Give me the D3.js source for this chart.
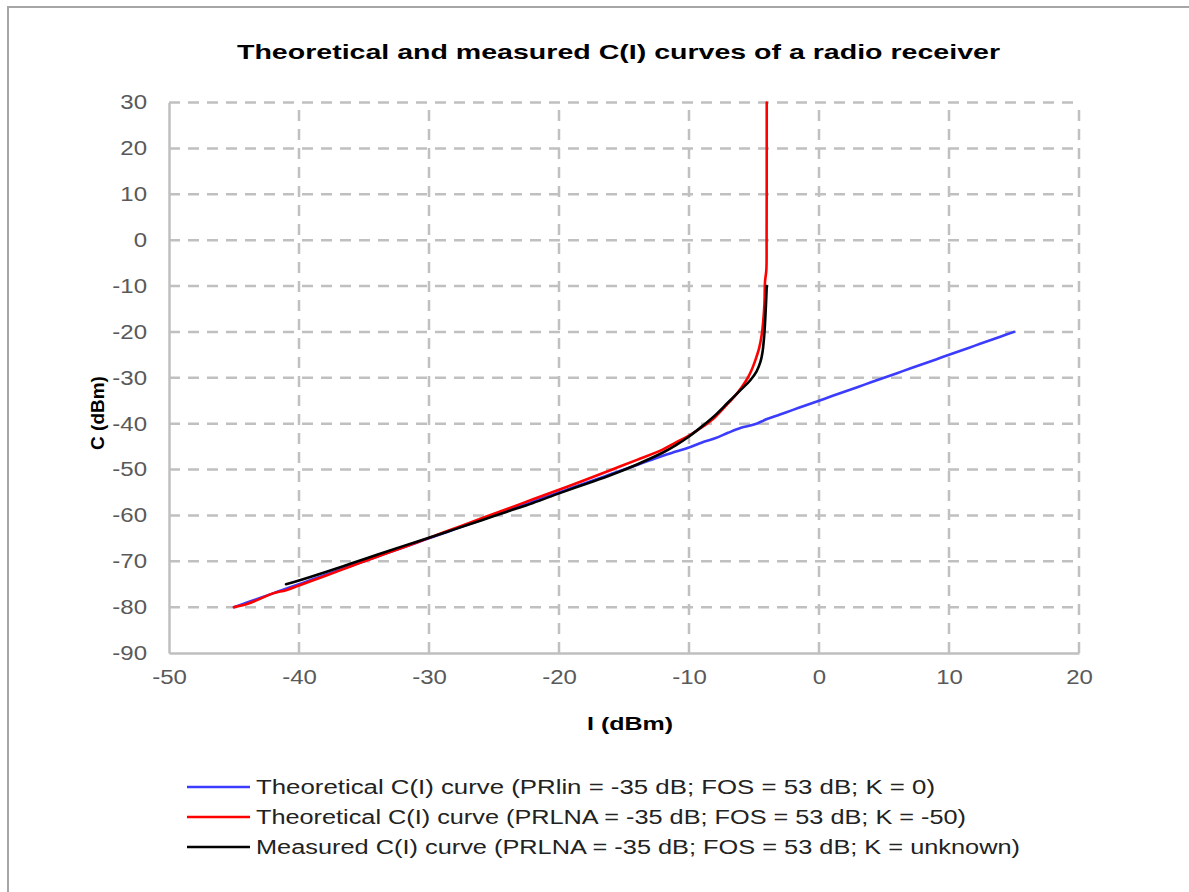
<!DOCTYPE html>
<html>
<head>
<meta charset="utf-8">
<script src="https://cdn.jsdelivr.net/npm/d3@7"></script>
<style>
  html, body { margin: 0; padding: 0; background: #fff; }
  svg { display: block; font-family: "Liberation Sans", Arial, sans-serif; }
</style>
</head>
<body>
<svg id="chart" width="1189" height="892"></svg>
<script>
// ---- Data ----
const xTicks = [-50, -40, -30, -20, -10, 0, 10, 20];
const yTicks = [-90, -80, -70, -60, -50, -40, -30, -20, -10, 0, 10, 20, 30];

const seriesNames = [
  "Theoretical C(I) curve (PRlin = -35 dB; FOS = 53 dB; K = 0)",
  "Theoretical C(I) curve (PRLNA = -35 dB; FOS = 53 dB; K = -50)",
  "Measured C(I) curve (PRLNA = -35 dB; FOS = 53 dB; K = unknown)"
];
const seriesColors = ["#3c3cff", "#ff0000", "#000000"];

const blueI = [-45,-44,-43,-42,-41,-40,-39,-38,-37,-36,-35,-34,-33,-32,-31,-30,-29,-28,-27,-26,-25,-24,-23,-22,-21,-20,-19,-18,-17,-16,-15,-14,-13,-12,-11,-10,-9,-8,-7,-6,-5,-4,-3,-2,-1,0,1,2,3,4,5,6,7,8,9,10,11,12,13,14,15];
const blueC = [-80,-79,-78,-77,-76,-75,-74,-73,-72,-71,-70,-69,-68,-67,-66,-65,-64,-63,-62,-61,-60,-59,-58,-57,-56,-55,-54,-53,-52,-51,-50,-49,-48,-47,-46.1,-45.2,-44.1,-43.2,-42,-40.9,-40.2,-39,-38,-37,-36,-35,-34,-33,-32,-31,-30,-29,-28,-27,-26,-25,-24,-23,-22,-21,-20];

const redI = [-45,-44,-43,-42,-41,-40,-38,-36,-34,-32,-30,-28,-26,-24,-22,-20,-18,-16,-14,-12,-11,-10,-9,-8,-7,-6.3,-5.6,-5.2,-4.9,-4.6,-4.4,-4.3,-4.2,-4.15,-4.05,-4.03,-4.02];
const redC = [-80,-79.3,-78.2,-77,-76.3,-75.3,-73.2,-71.1,-69,-67,-64.9,-62.8,-60.7,-58.6,-56.5,-54.4,-52.3,-50.1,-47.9,-45.6,-44.1,-42.6,-40.8,-38.6,-35.6,-33.4,-30.6,-28.4,-26.2,-23.5,-20.5,-18,-14,-9,-6.5,0,30];

const blackI = [-41,-40,-38,-36,-34,-32,-30,-28,-26,-24,-22,-20,-18,-16,-14,-12,-11,-10,-9,-8,-7,-6,-5.3,-4.8,-4.5,-4.35,-4.22,-4.15,-4.08,-4.02];
const blackC = [-75,-74.2,-72.4,-70.5,-68.6,-66.7,-64.9,-63,-61.1,-59.2,-57.3,-55.2,-53.2,-51.2,-48.9,-46.3,-44.7,-42.8,-40.6,-38.2,-35.4,-32.6,-30.6,-28.6,-26.5,-24.5,-21,-18,-14,-10];

// ---- Layout ----
const svg = d3.select("#chart");
const x = d3.scaleLinear().domain([-50, 20]).range([169, 1079]);
const y = d3.scaleLinear().domain([-90, 30]).range([653, 102.5]);

function stretch(sel, factor) {
  sel.each(function() {
    const w = this.getComputedTextLength();
    d3.select(this).attr("textLength", w * factor).attr("lengthAdjust", "spacingAndGlyphs");
  });
}

// outer border
svg.append("rect").attr("x", 8).attr("y", 7).attr("width", 1200).attr("height", 900)
  .attr("fill", "#fff").attr("stroke", "#a6a6a6").attr("stroke-width", 2);

// title
svg.append("text").attr("x", 618.5).attr("y", 59).attr("text-anchor", "middle")
  .attr("font-size", 21).attr("font-weight", "bold").attr("fill", "#000")
  .attr("textLength", 763).attr("lengthAdjust", "spacingAndGlyphs")
  .text("Theoretical and measured C(I) curves of a radio receiver");

// grid
const grid = svg.append("g");
grid.selectAll("line.h").data(yTicks.filter(d => d > -90)).enter().append("line")
  .attr("x1", x(-50)).attr("x2", x(20)).attr("y1", d => y(d)).attr("y2", d => y(d))
  .attr("stroke", "#c0c0c0").attr("stroke-width", 2.5).attr("stroke-dasharray", "11,8");
grid.selectAll("line.v").data(xTicks.filter(d => d > -50)).enter().append("line")
  .attr("y1", y(-90)).attr("y2", y(30)).attr("x1", d => x(d)).attr("x2", d => x(d))
  .attr("stroke", "#c0c0c0").attr("stroke-width", 2.5).attr("stroke-dasharray", "11,8");

// axes
const yAxis = d3.axisLeft(y).tickValues(yTicks).tickSize(0).tickPadding(22).tickFormat(d3.format("d"));
const xAxis = d3.axisBottom(x).tickValues(xTicks).tickSize(0).tickPadding(17).tickFormat(d3.format("d"));
const gy = svg.append("g").attr("transform", `translate(${x(-50)},0)`).call(yAxis);
const gx = svg.append("g").attr("transform", `translate(0,${y(-90)})`).call(xAxis);
[gx, gy].forEach(g => {
  g.select(".domain").attr("stroke", "#bfbfbf").attr("stroke-width", 2.5);
  g.selectAll("text").attr("font-size", 20).attr("fill", "#595959")
    .attr("font-family", "'Liberation Sans', Arial, sans-serif").text(d => d < 0 ? "-" + Math.abs(d) : d);
  stretch(g.selectAll("text"), 1.2);
});

// axis titles
svg.append("text").attr("x", 630).attr("y", 730).attr("text-anchor", "middle")
  .attr("font-size", 19).attr("font-weight", "bold").attr("fill", "#000")
  .attr("textLength", 86).attr("lengthAdjust", "spacingAndGlyphs").text("I (dBm)");
svg.append("text").attr("transform", "translate(104,413) rotate(-90)").attr("text-anchor", "middle")
  .attr("font-size", 19).attr("font-weight", "bold").attr("fill", "#000").text("C (dBm)");

// lines
const line = d3.line().x(d => x(d[0])).y(d => y(d[1])).curve(d3.curveCatmullRom.alpha(0.5));
const series = [
  d3.zip(blueI, blueC),
  d3.zip(redI, redC),
  d3.zip(blackI, blackC)
];
svg.append("g").selectAll("path").data(series).enter().append("path")
  .attr("d", line).attr("fill", "none")
  .attr("stroke", (d, i) => seriesColors[i]).attr("stroke-width", 2.6)
  .attr("stroke-linejoin", "round").attr("stroke-linecap", "round");

// legend
const legendY = [787, 817, 847];
const legendW = [679, 710, 764];
const lg = svg.append("g");
seriesNames.forEach((name, i) => {
  lg.append("line").attr("x1", 187).attr("x2", 250).attr("y1", legendY[i]).attr("y2", legendY[i])
    .attr("stroke", seriesColors[i]).attr("stroke-width", 2.5);
  lg.append("text").attr("x", 256).attr("y", legendY[i] + 7).attr("font-size", 20).attr("fill", "#222")
    .attr("textLength", legendW[i]).attr("lengthAdjust", "spacingAndGlyphs").text(name);
});
</script>
</body>
</html>
